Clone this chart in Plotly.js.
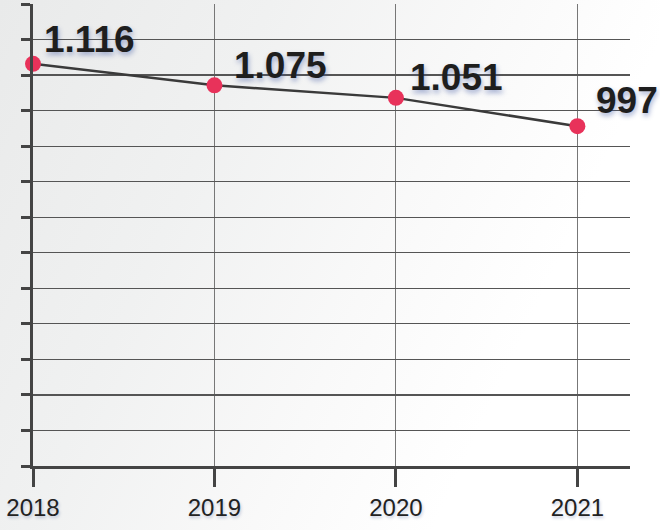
<!DOCTYPE html>
<html>
<head>
<meta charset="utf-8">
<script src="https://cdn.plot.ly/plotly-3.0.1.min.js"></script>
<style>
  html, body { margin: 0; padding: 0; }
  body { width: 660px; height: 530px; background: linear-gradient(115deg, #e9eaea 0%, #f0f1f1 30%, #f9f9f9 55%, #ffffff 75%); }
  #chart { width: 660px; height: 530px; }
</style>
</head>
<body>
<div id="chart"></div>
<script>
const years = [2018, 2019, 2020, 2021];
const values = [1116, 1075, 1051, 997];
const yearLabels = ['2018', '2019', '2020', '2021'];

const yMin = 349, yMax = 1230, nGrid = 13;

const trace = {
  x: years,
  y: values,
  type: 'scatter',
  mode: 'lines+markers',
  cliponaxis: false,
  line: { color: '#3a3a3a', width: 2.5 },
  marker: { color: '#e8325a', size: 16 },
  hoverinfo: 'skip'
};

const shifts = [[9, 24], [18, 20], [12, 20], [17, 26]];
const annotations = values.map((v, i) => ({
  x: years[i], y: v, xref: 'x', yref: 'y',
  text: v.toLocaleString('de-DE'),
  showarrow: false,
  xanchor: 'left', yanchor: 'middle',
  xshift: shifts[i][0], yshift: shifts[i][1],
  font: { family: 'Liberation Sans, Arial, sans-serif', size: 37, color: '#1e1e1e', weight: 'bold',
          shadow: '1px 3px 5px rgba(60,85,160,0.45)' }
}));

const layout = {
  width: 660, height: 530,
  margin: { l: 33, r: 30, t: 4, b: 64 },
  paper_bgcolor: 'rgba(0,0,0,0)',
  plot_bgcolor: 'rgba(0,0,0,0)',
  showlegend: false,
  xaxis: {
    range: [2018, 2021.29],
    tickvals: years, ticktext: yearLabels,
    showline: true, linecolor: '#444', linewidth: 3,
    ticks: 'outside', ticklen: 18, tickwidth: 3, tickcolor: '#444',
    showgrid: true, gridcolor: '#777', gridwidth: 1,
    zeroline: false,
    tickfont: { family: 'Liberation Sans, Arial, sans-serif', size: 24, color: '#222',
                shadow: '1px 2px 3px rgba(70,90,150,0.3)' }
  },
  yaxis: {
    range: [yMin, yMax + 0.01],
    tick0: yMin, dtick: (yMax - yMin) / nGrid,
    showticklabels: false,
    showline: true, linecolor: '#444', linewidth: 3,
    ticks: 'outside', ticklen: 9, tickwidth: 3, tickcolor: '#444',
    showgrid: true, gridcolor: '#555', gridwidth: 1.2,
    zeroline: false
  },
  annotations: annotations
};

Plotly.newPlot('chart', [trace], layout, { staticPlot: true, displayModeBar: false });
</script>
</body>
</html>
